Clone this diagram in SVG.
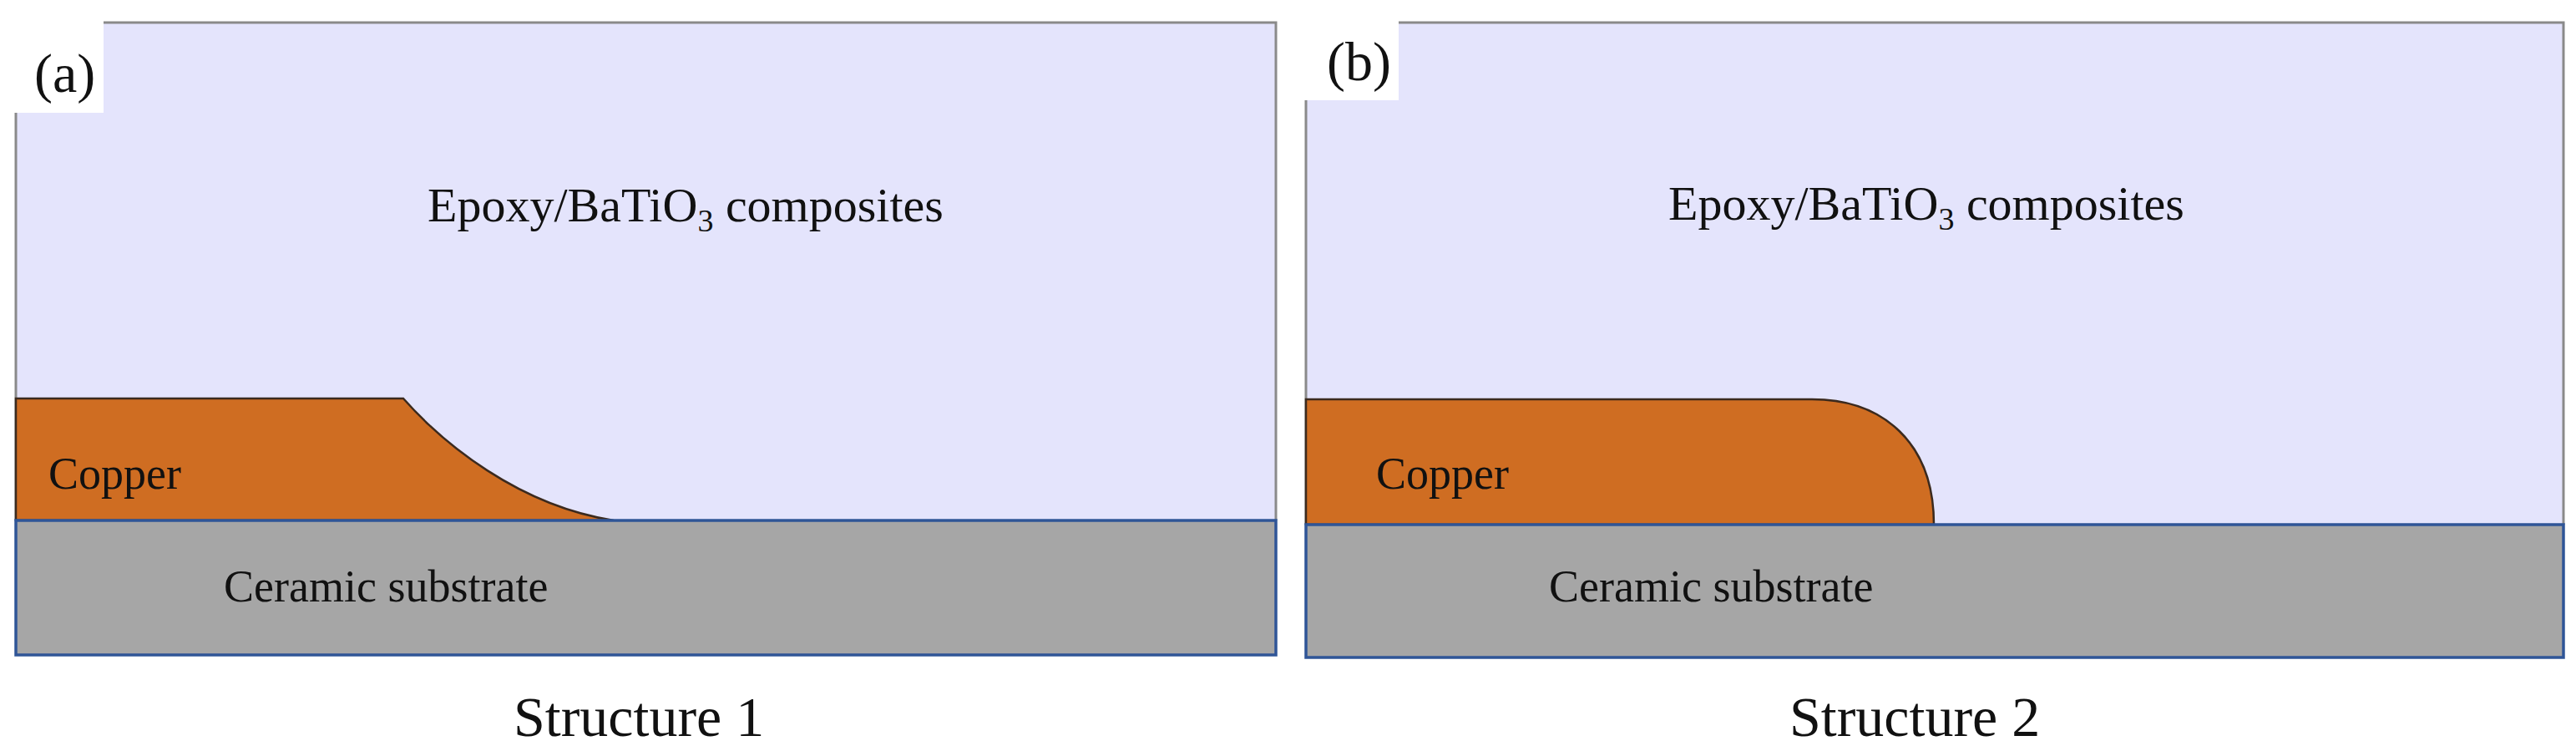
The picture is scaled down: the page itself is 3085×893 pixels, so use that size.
<svg xmlns="http://www.w3.org/2000/svg" width="3085" height="893" viewBox="0 0 3085 893">
<style>
.ep{fill:#E4E4FC;stroke:none}
.edge{stroke:#8a8a8a;stroke-width:3;fill:none}
.cu{fill:#CF6D22;stroke:#3b2a1e;stroke-width:2.5}
.sub{fill:#A6A6A6;stroke:#2F5597;stroke-width:3.5}
.t{font-family:"Liberation Serif","Times New Roman",serif;fill:#111}
</style>
<rect width="3085" height="893" fill="#fff"/>
<g id="panel-a">
<rect class="ep" x="19" y="27" width="1509" height="596"/>
<path class="edge" d="M124,27 H1528 V623"/>
<path class="edge" d="M19,135 V623"/>
<rect x="0" y="0" width="124" height="135" fill="#fff"/>
<text class="t" x="41" y="110" font-size="66">(a)</text>
<g id="epoxy-a"><text class="t" x="512" y="265" font-size="58">Epoxy/BaTiO<tspan font-size="38" dy="12">3</tspan><tspan dy="-12"> composites</tspan></text></g>
<g id="copper-a"><path class="cu" d="M19,477 H483 C530,530 620,605 735,623 H19 Z"/>
<text class="t" x="58" y="585" font-size="54">Copper</text></g>
<g id="substrate-a"><rect class="sub" x="19" y="623" width="1509" height="161"/>
<text class="t" x="268" y="720" font-size="54">Ceramic substrate</text></g>
<text class="t" x="615" y="881" font-size="68">Structure 1</text>
</g>
<g id="panel-b">
<rect class="ep" x="1564" y="27" width="1506" height="601"/>
<path class="edge" d="M1675,27 H3070 V628"/>
<path class="edge" d="M1564,120 V628"/>
<rect x="1540" y="0" width="135" height="120" fill="#fff"/>
<text class="t" x="1589" y="96" font-size="66">(b)</text>
<g id="epoxy-b"><text class="t" x="1998" y="263" font-size="58">Epoxy/BaTiO<tspan font-size="38" dy="12">3</tspan><tspan dy="-12"> composites</tspan></text></g>
<g id="copper-b"><path class="cu" d="M1564,478 H2170 C2255,478 2316,530 2316,628 H1564 Z"/>
<text class="t" x="1648" y="585" font-size="54">Copper</text></g>
<g id="substrate-b"><rect class="sub" x="1564" y="628" width="1506" height="159"/>
<text class="t" x="1855" y="720" font-size="54">Ceramic substrate</text></g>
<text class="t" x="2143" y="881" font-size="68">Structure 2</text>
</g>
<g id="connectors"/>
</svg>
